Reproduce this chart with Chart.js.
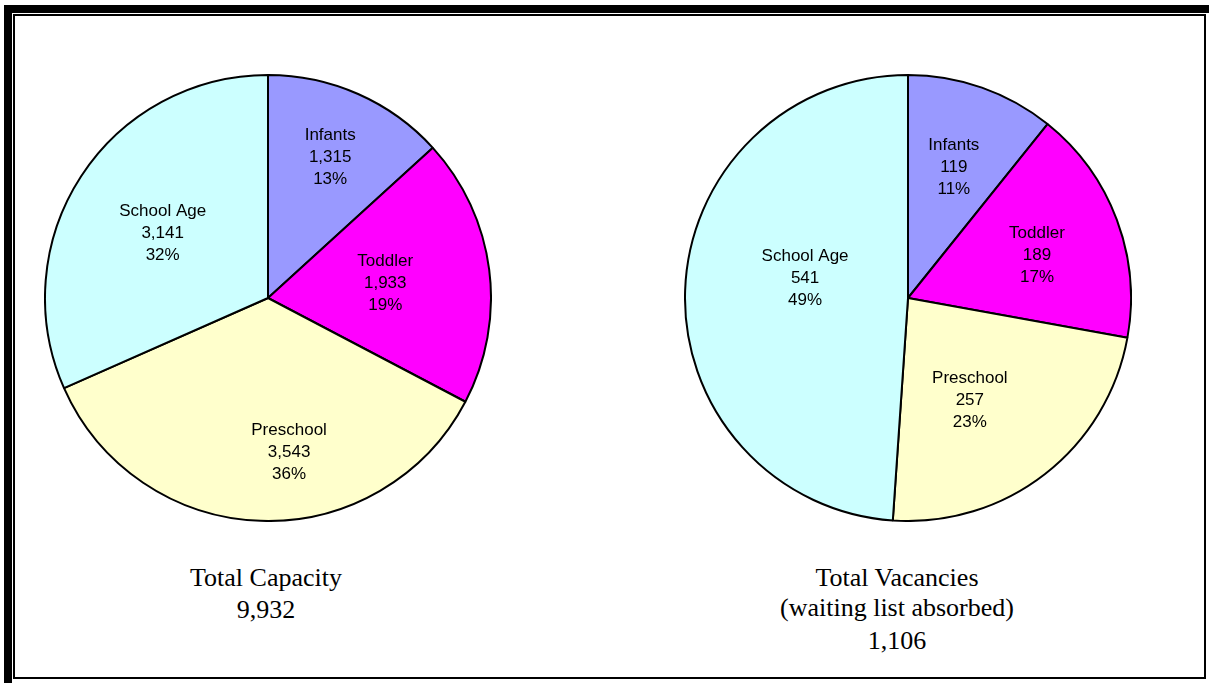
<!DOCTYPE html>
<html lang="en">

<head>
        <meta charset="UTF-8">
        <title>Capacity and Vacancies</title>
        <style>
                body {
                        margin: 0;
                        background: #fff;
                        width: 1209px;
                        height: 683px;
                        position: relative;
                        overflow: hidden;
                }

                /* thick bar along top and left, thin frame inside */
                #thick {
                        position: absolute;
                        left: 4px;
                        top: 5px;
                        width: 1220px;
                        height: 700px;
                        border-top: 8px solid #000;
                        border-left: 8px solid #000;
                }

                #thin {
                        position: absolute;
                        left: 13px;
                        top: 14px;
                        width: 1189px;
                        height: 661px;
                        border: 2px solid #000;
                }

                canvas {
                        position: absolute;
                }

                .caption {
                        position: absolute;
                        width: 400px;
                        text-align: center;
                        font-family: "Liberation Serif", "Times New Roman", serif;
                        font-size: 26px;
                        line-height: 26px;
                        color: #000;
                        white-space: nowrap;
                }
        </style>
</head>

<body>
        <div id="thick"></div>
        <div id="thin"></div>

        <canvas id="capacityChart" width="448" height="448" style="left:44px;top:74px"></canvas>
        <canvas id="vacancyChart" width="448" height="448" style="left:684px;top:74px"></canvas>

        <div class="caption" style="left:66px;top:565px">Total Capacity</div>
        <div class="caption" id="capTotal" style="left:66px;top:597px"></div>

        <div class="caption" style="left:697px;top:565px">Total Vacancies</div>
        <div class="caption" style="left:697px;top:595px">(waiting list absorbed)</div>
        <div class="caption" id="vacTotal" style="left:697px;top:628px"></div>

        <script src="https://cdn.jsdelivr.net/npm/chart.js@4"></script>
        <script>
                const categories = ['Infants', 'Toddler', 'Preschool', 'School Age']
                const capacity = [1315, 1933, 3543, 3141]
                const vacancies = [119, 189, 257, 541]
                const sliceColors = ['#9999ff', '#ff00ff', '#ffffcc', '#ccffff']

                const fmt = n => n.toLocaleString('en-US')
                const sum = arr => arr.reduce((a, b) => a + b, 0)

                document.getElementById('capTotal').textContent = fmt(sum(capacity))
                document.getElementById('vacTotal').textContent = fmt(sum(vacancies))

                // draws "name / value / pct" inside each slice
                // opts.radius = fraction of radius, opts.turn = degrees off the mid angle
                const sliceLabels = {
                        id: 'sliceLabels',
                        afterDatasetsDraw(chart, args, opts) {
                                const ctx = chart.ctx
                                const ds = chart.data.datasets[0]
                                const total = sum(ds.data)
                                const meta = chart.getDatasetMeta(0)
                                ctx.save()
                                ctx.font = '17px "Liberation Sans", Arial, sans-serif'
                                ctx.fillStyle = '#000'
                                ctx.textAlign = 'center'
                                ctx.textBaseline = 'middle'
                                meta.data.forEach((arc, i) => {
                                        const p = arc.getProps(['x', 'y', 'startAngle', 'endAngle', 'outerRadius'], true)
                                        const mid = (p.startAngle + p.endAngle) / 2 + opts.turn[i] * Math.PI / 180
                                        const r = p.outerRadius * opts.radius[i]
                                        const x = p.x + Math.cos(mid) * r
                                        const y = p.y + Math.sin(mid) * r
                                        const lines = [
                                                chart.data.labels[i],
                                                fmt(ds.data[i]),
                                                Math.round(ds.data[i] / total * 100) + '%'
                                        ]
                                        lines.forEach((t, k) => ctx.fillText(t, x, y + (k - 1) * 22))
                                })
                                ctx.restore()
                        }
                }

                function makePie(id, values, labelRadius, labelTurn) {
                        return new Chart(document.getElementById(id), {
                                type: 'pie',
                                data: {
                                        labels: categories,
                                        datasets: [{
                                                data: values,
                                                backgroundColor: sliceColors,
                                                borderColor: '#000',
                                                borderWidth: 2
                                        }]
                                },
                                options: {
                                        responsive: false,
                                        animation: false,
                                        layout: { padding: 0 },
                                        plugins: {
                                                legend: { display: false },
                                                tooltip: { enabled: false },
                                                sliceLabels: { radius: labelRadius, turn: labelTurn }
                                        }
                                },
                                plugins: [sliceLabels]
                        })
                }

                makePie('capacityChart', capacity, [0.69, 0.53, 0.70, 0.555], [0, 0, -9.7, -1.4])
                makePie('vacancyChart', vacancies, [0.62, 0.61, 0.535, 0.47], [0, 2, 6.7, 9])
        </script>
</body>

</html>
